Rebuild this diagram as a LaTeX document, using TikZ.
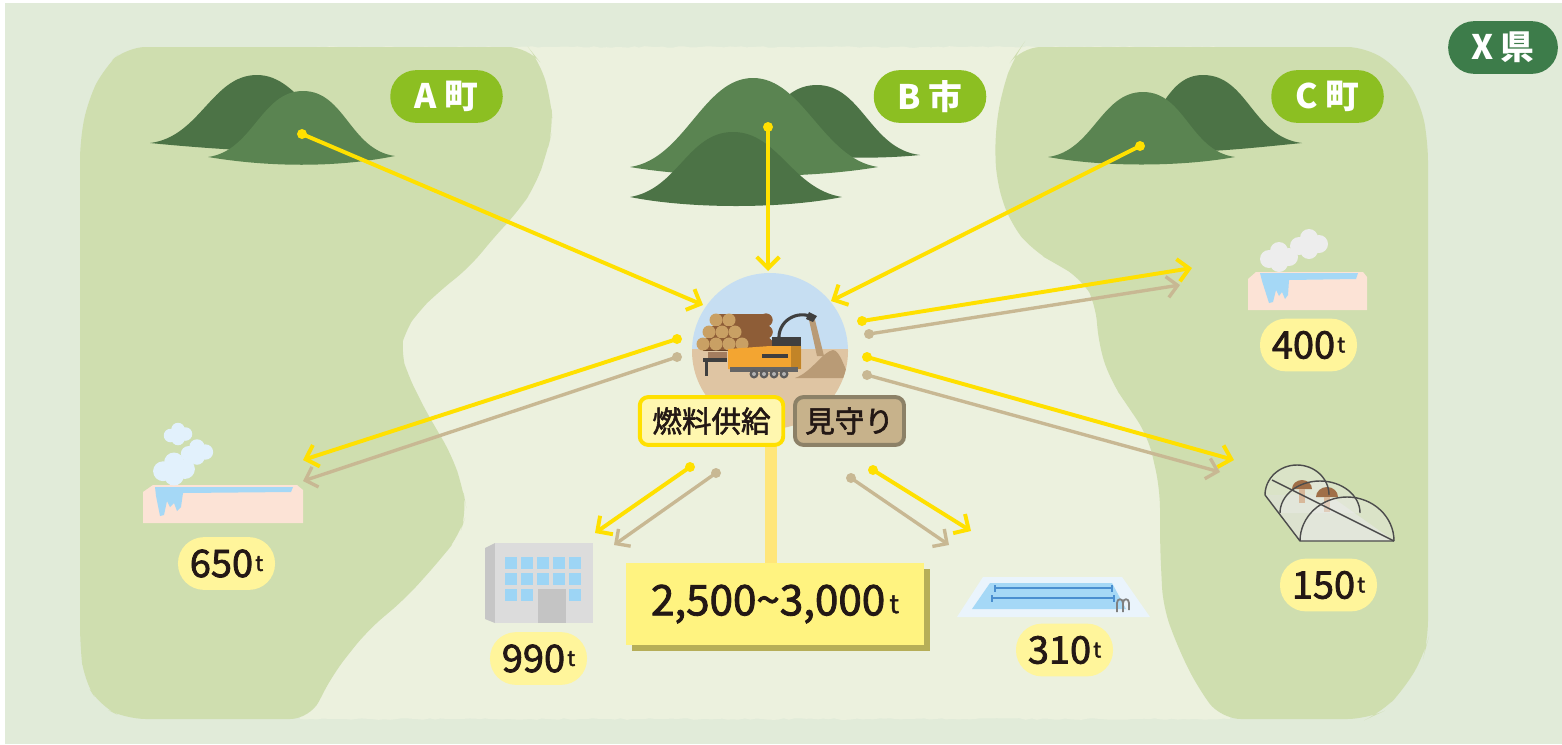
\documentclass[tikz,border=0pt]{standalone}
\usepackage{fontspec}
\setmainfont{Noto Sans CJK JP}
\newfontfamily\medfont{Noto Sans CJK JP}[FakeBold=2]
\usetikzlibrary{arrows.meta}
\usetikzlibrary{shadows}
\usetikzlibrary{decorations.pathmorphing}

\definecolor{bgout}{HTML}{E1EBD9}
\definecolor{bgin}{HTML}{ECF1DE}
\definecolor{land}{HTML}{CFDEAF}
\definecolor{mtdark}{HTML}{4C7346}
\definecolor{mtlight}{HTML}{5A8451}
\definecolor{townbg}{HTML}{8CBF22}
\definecolor{prefbg}{HTML}{3D7C4A}
\definecolor{fuelyel}{HTML}{FFE000}
\definecolor{watchtan}{HTML}{C8B893}
\definecolor{pillbg}{HTML}{FFF59B}
\definecolor{totalbg}{HTML}{FFF380}
\definecolor{totalsh}{HTML}{B6AE58}
\definecolor{stemcol}{HTML}{FFE67A}
\definecolor{ink}{HTML}{231815}
\definecolor{sky}{HTML}{C6DEF2}
\definecolor{ground}{HTML}{DFC5A3}
\definecolor{bark}{HTML}{8E5D37}
\definecolor{logend}{HTML}{C9A064}
\definecolor{machine}{HTML}{F3A531}
\definecolor{machdark}{HTML}{3F3F3F}
\definecolor{chips}{HTML}{B99B76}
\definecolor{tub}{HTML}{FCE3D6}
\definecolor{water}{HTML}{A5D8F6}
\definecolor{steamblue}{HTML}{E2F1FC}
\definecolor{steamgrey}{HTML}{EDEDED}
\definecolor{bldg}{HTML}{DCDCDC}
\definecolor{bldgside}{HTML}{C6C6C6}
\definecolor{door}{HTML}{C4C4C4}
\definecolor{win}{HTML}{9DD5F5}
\definecolor{poolrim}{HTML}{EAF4FC}
\definecolor{lane}{HTML}{4A8FD0}
\definecolor{mushcap}{HTML}{A06F48}
\definecolor{stalk}{HTML}{D8B89A}

\tikzset{
  feed/.style={fuelyel, line width=2.8pt, -{Straight Barb[length=8pt,width=16pt]}},
  check/.style={watchtan, line width=2.4pt, -{Straight Barb[length=7.5pt,width=15pt]}},
  town/.style={fill=townbg, text=white, rounded corners=18.5pt, minimum width=80pt,
    minimum height=37.5pt, inner sep=0pt, font=\bfseries\fontsize{24}{24}\selectfont},
  amount/.style={fill=pillbg, text=ink, rounded corners=18.5pt, minimum width=69pt,
    minimum height=37.5pt, inner sep=0pt, font=\medfont\fontsize{27}{27}\selectfont},
  torn/.style={decorate, decoration={random steps, segment length=4pt, amplitude=.6pt}},
}

% small t after a tonnage
\newcommand{\amt}[1]{#1\kern1.5pt\raisebox{.3ex}{\fontsize{15}{15}\selectfont t}}
% one cloud of steam
\newcommand{\puff}[4]{%
  \fill[#1] (#2-0.5*#4,#3+0.1*#4) circle[radius=0.45*#4]
    (#2,#3-0.3*#4) circle[radius=0.45*#4]
    (#2+0.5*#4,#3) circle[radius=0.45*#4]
    (#2,#3+0.3*#4) circle[radius=0.45*#4];}

\begin{document}
\begin{tikzpicture}[x=0.025cm, y=-0.025cm]
\useasboundingbox (0,0) rectangle (1562,744);
\fill[white] (0,0) rectangle (1562,744);
\fill[bgout] (5,3) rectangle (1562,744);

% map
\fill[bgin, torn] (300,47) rectangle (1230,719);
\fill[land, rounded corners=14pt] (126,47) -- (330,47) -- (528,47) -- (540,62) -- (551,100)
  -- (553,128) -- (547,152) -- (536,185) -- (517,213) -- (494,237) -- (471,266) -- (436,294)
  -- (417,313) -- (404,332) -- (400,351) -- (406,370) -- (417,394) -- (432,422) -- (452,455)
  -- (463,489) -- (467,512) -- (459,536) -- (440,560) -- (406,598) -- (367,631) -- (333,674)
  -- (310,719) -- (200,719) -- (126,719) -- (100,706) -- (84,680) -- (80,645) -- (80,400)
  -- (80,140) -- (88,100) -- (104,68) -- cycle;
\fill[land, rounded corners=14pt] (1021,47) -- (1200,47) -- (1367,47) -- (1401,71)
  -- (1421,104) -- (1428,142) -- (1428,400) -- (1428,640) -- (1424,655) -- (1405,688)
  -- (1382,712) -- (1367,719) -- (1221,719) -- (1198,688) -- (1179,650) -- (1163,607)
  -- (1160,546) -- (1160,489) -- (1148,436) -- (1129,408) -- (1110,380) -- (1098,342)
  -- (1096,304) -- (1083,280) -- (1060,266) -- (1033,251) -- (1010,223) -- (996,180)
  -- (995,133) -- (1002,90) -- (1014,57) -- cycle;

% mountains A
\fill[mtdark] (150,143) .. controls +(50,-6) and +(-45,0) .. (257,75)
  .. controls +(45,0) and +(-50,-6) .. (370,150) .. controls +(-60,6) and +(60,6) .. (150,143) -- cycle;
\fill[mtlight] (208,157) .. controls +(45,-6) and +(-42,0) .. (303,91)
  .. controls +(42,0) and +(-45,-6) .. (395,156) .. controls +(-60,12) and +(60,10) .. (208,157) -- cycle;
% mountains B
\fill[mtdark] (730,150) .. controls +(40,-20) and +(-40,0) .. (817,85)
  .. controls +(45,0) and +(-50,-6) .. (920,155) .. controls +(-60,6) and +(60,6) .. (730,150) -- cycle;
\fill[mtlight] (630,167) .. controls +(55,-8) and +(-50,0) .. (753,78)
  .. controls +(50,0) and +(-55,-8) .. (878,167) .. controls +(-70,12) and +(70,12) .. (630,167) -- cycle;
\fill[mtdark] (630,197) .. controls +(48,-8) and +(-45,0) .. (733,132)
  .. controls +(45,0) and +(-50,-8) .. (842,197) .. controls +(-60,12) and +(60,12) .. (630,197) -- cycle;
% mountains C
\fill[mtdark] (1120,150) .. controls +(40,-20) and +(-40,0) .. (1203,75)
  .. controls +(45,0) and +(-50,-6) .. (1302,143) .. controls +(-60,6) and +(60,6) .. (1120,150) -- cycle;
\fill[mtlight] (1048,157) .. controls +(45,-6) and +(-42,0) .. (1143,92)
  .. controls +(42,0) and +(-45,-6) .. (1235,157) .. controls +(-55,10) and +(55,10) .. (1048,157) -- cycle;

% ends of the arrows
\coordinate (mtA) at (302,134);
\coordinate (mtB) at (768,127);
\coordinate (mtC) at (1140,146);
\coordinate (inA) at (703,305);
\coordinate (inB) at (768,271);
\coordinate (inC) at (831,301);
\coordinate (fBathA) at (677,339);  \coordinate (toBathA) at (303,460);
\coordinate (wBathA) at (677,357);  \coordinate (toBathAw) at (303,481);
\coordinate (fOffice) at (690,467); \coordinate (toOffice) at (595,533);
\coordinate (wOffice) at (716,473); \coordinate (toOfficew) at (614,545);
\coordinate (fPool) at (873,470);   \coordinate (toPool) at (971,531);
\coordinate (wPool) at (851,478);   \coordinate (toPoolw) at (949,545);
\coordinate (fBathC) at (862,321);  \coordinate (toBathC) at (1192,268);
\coordinate (wBathC) at (869,334);  \coordinate (toBathCw) at (1180,285);
\coordinate (fHouse) at (867,357);  \coordinate (toHouse) at (1234,460);
\coordinate (wHouse) at (867,375);  \coordinate (toHousew) at (1220,472);

% wood in
\draw[feed] (mtA) -- (inA);
\draw[feed] (mtB) -- (inB);
\draw[feed] (mtC) -- (inC);
\fill[fuelyel] (mtA) circle[radius=5] (mtB) circle[radius=5] (mtC) circle[radius=5];

% chips out
\draw[check] (wBathA) -- (toBathAw);
\draw[feed] (fBathA) -- (toBathA);
\draw[check] (wOffice) -- (toOfficew);
\draw[feed] (fOffice) -- (toOffice);
\draw[check] (wPool) -- (toPoolw);
\draw[feed] (fPool) -- (toPool);
\draw[check] (wBathC) -- (toBathCw);
\draw[feed] (fBathC) -- (toBathC);
\draw[check] (wHouse) -- (toHousew);
\draw[feed] (fHouse) -- (toHouse);
\fill[watchtan] (wBathA) circle[radius=5] (wOffice) circle[radius=5] (wPool) circle[radius=5]
  (wBathC) circle[radius=5] (wHouse) circle[radius=5];
\fill[fuelyel] (fBathA) circle[radius=5] (fOffice) circle[radius=5] (fPool) circle[radius=5]
  (fBathC) circle[radius=5] (fHouse) circle[radius=5];

% chip yard
\coordinate (hub) at (770,351);
\begin{scope}
\clip (hub) circle[radius=78];
\fill[sky] (690,270) rectangle (850,349);
\fill[ground] (690,349) rectangle (850,432);
\foreach \x/\y in {716/320, 729/320, 709/332, 722/332, 735/332, 703/344, 716/344, 729/344, 742/344}
  {\fill[bark] (\x,\y-6.5) rectangle (766,\y+6.5);
   \fill[bark] (766,\y) circle[radius=6.5];
   \draw[bark!70!black, line width=.4pt] (\x,\y+6.5) -- (766,\y+6.5);
   \fill[logend] (\x,\y) circle[radius=6.5];}
\fill[chips] (809,320) -- (815,320) -- (824,356) -- (817,356) -- cycle;
\fill[chips] (795,378) .. controls (812,372) and (822,352) .. (833,350)
  .. controls (840,350) and (845,370) .. (850,378) -- cycle;
\fill[machdark] (772,337) rectangle (801,347);
\fill[machine] (728,349) -- (770,346) -- (801,346) -- (801,369) -- (728,369) -- cycle;
\fill[machine!80!black] (791,346) rectangle (801,369);
\fill[machdark] (762,354) rectangle (788,358);
\fill[machdark!80] (730,367) rectangle (798,372);
\foreach \x in {754,764,774,784}
  {\fill[machdark!85] (\x,374) circle[radius=4.5];
   \fill[gray!60] (\x,374) circle[radius=2];}
\fill[machdark] (703,358) rectangle (727,362);
\fill[machdark] (705,362) rectangle (708,376);
\fill[bark!80] (708,352) rectangle (727,358);
\draw[machdark, line width=2.2pt] (779,341) .. controls (777,320) and (798,310) .. (812,317);
\fill[machdark] (809,312) -- (817,316) -- (813,322) -- (806,319) -- cycle;
\end{scope}

% what the yard does
\coordinate (stemtop) at (771,440);
\node[fill=totalbg, minimum width=212pt, minimum height=58.3pt, inner sep=0pt, text=ink,
  drop shadow={shadow xshift=4.3pt, shadow yshift=-4.3pt, fill=totalsh, opacity=1},
  font=\medfont\fontsize{30}{30}\selectfont]
  (total) at (775,604) {2,500\symbol{"7E}3,000\kern3pt\raisebox{.1ex}{\fontsize{18}{18}\selectfont t}};
\draw[stemcol, line width=8.5pt] (stemtop) -- (stemtop |- total.north);
\node[draw=fuelyel, line width=2.8pt, fill=pillbg!80!white, rounded corners=6pt, minimum width=102pt,
  minimum height=34pt, inner sep=0pt, text=ink, font=\medfont\fontsize{21}{21}\selectfont]
  (fuel) at (711.5,421) {燃料供給};
\node[draw=watchtan!70!black, line width=2.8pt, fill=watchtan!90!brown, rounded corners=6pt,
  minimum width=77.5pt, minimum height=34pt, inner sep=0pt, text=ink, font=\medfont\fontsize{21}{21}\selectfont]
  (watch) at (849.5,421) {見守り};

% bath, A town
\fill[tub] (143,492) -- (153,485) -- (297,485) -- (303,490) -- (303,523) -- (143,523) -- cycle;
\fill[water] (155,487) -- (293,487) -- (291,492) -- (183,493) -- (181,507) -- (177,511) -- (174,503)
  -- (170,507) -- (167,501) -- (164,515) -- (160,516) -- (156,496) -- cycle;
\puff{steamblue}{178}{434}{15}
\puff{steamblue}{197}{452}{17}
\puff{steamblue}{174}{469}{22}

% bath, C town
\fill[tub] (1248,279) -- (1256,272) -- (1363,272) -- (1367,277) -- (1367,310) -- (1248,310) -- cycle;
\fill[water] (1260,273) -- (1358,273) -- (1356,279) -- (1289,280) -- (1288,295) -- (1285,299)
  -- (1282,292) -- (1279,296) -- (1276,290) -- (1273,302) -- (1269,303) -- (1262,281) -- cycle;
\puff{steamgrey}{1279}{257}{20}
\puff{steamgrey}{1309}{244}{20}

% office
\fill[bldgside] (485,548) -- (495,543) -- (495,623) -- (485,619) -- cycle;
\fill[bldg] (495,543) rectangle (593,623);
\foreach \c in {0,...,4}
  \foreach \r in {0,1}
    \fill[win] (505+\c*16,557+\r*16) rectangle +(11.5,11.5);
\foreach \c in {0,1,4}
  \fill[win] (505+\c*16,589) rectangle +(11.5,11.5);
\fill[door] (538,589) rectangle (566,623);

% pool
\fill[poolrim] (983,577) -- (1122,577) -- (1150,617) -- (957,617) -- cycle;
\fill[water] (990,583) -- (1112,583) -- (1126,609) -- (972,609) -- cycle;
\draw[lane, line width=1.6pt] (995,588) -- (1112,588) (992,598) -- (1114,598);
\draw[lane, line width=1.6pt] (995,585) -- (995,592) (1112,585) -- (1112,592)
  (992,595) -- (992,602) (1114,595) -- (1114,602);
\draw[gray, line width=1.3pt] (1117,612) -- (1117,603) .. controls (1117,598) and (1123,598) .. (1123,603)
  -- (1123,612) (1123,603) .. controls (1123,598) and (1129,598) .. (1129,603) -- (1129,610);

% greenhouse
\fill[gray!20, opacity=.6] (1265,495) -- (1300,541) -- (1394,541) -- (1329,495) -- cycle;
\begin{scope}[fill=gray!15, fill opacity=.4]
\fill (1265,495) arc[start angle=180, end angle=360, x radius=32, y radius=30];
\fill (1280,513) arc[start angle=180, end angle=360, x radius=40, y radius=32];
\end{scope}
\fill[mushcap] (1292,489) arc[start angle=180, end angle=360, x radius=10, y radius=9] -- cycle;
\fill[stalk] (1299,489) rectangle (1305,503);
\fill[mushcap] (1316,497) arc[start angle=180, end angle=360, x radius=11, y radius=10] -- cycle;
\fill[stalk] (1324,497) rectangle (1330,512);
\fill[gray!15, fill opacity=.4] (1300,541) arc[start angle=180, end angle=360, x radius=47, y radius=44];
\begin{scope}[draw=black!70, line width=1pt]
\draw (1265,495) arc[start angle=180, end angle=360, x radius=32, y radius=30];
\draw (1280,513) arc[start angle=180, end angle=360, x radius=40, y radius=32];
\draw (1300,541) arc[start angle=180, end angle=360, x radius=47, y radius=44];
\draw (1265,495) -- (1300,541) -- (1394,541);
\draw (1272,480) -- (1394,541);
\end{scope}

% tonnages
\node[amount] (t650) at (226.5,563.5) {\amt{650}};
\node[amount] (t990) at (538.5,658.5) {\amt{990}};
\node[amount] (t400) at (1308.5,345) {\amt{400}};
\node[amount] (t150) at (1328.5,585) {\amt{150}};
\node[amount] (t310) at (1064.5,650) {\amt{310}};

% names
\node[town] (townA) at (446.5,96.5) {A\hspace{5pt}町};
\node[town] (cityB) at (930,96.5) {B\hspace{5pt}市};
\node[town] (townC) at (1327.5,96.5) {C\hspace{5pt}町};
\node[town, fill=prefbg, minimum width=78pt] (pref) at (1503,47.5) {X\hspace{5pt}県};
\end{tikzpicture}
\end{document}
